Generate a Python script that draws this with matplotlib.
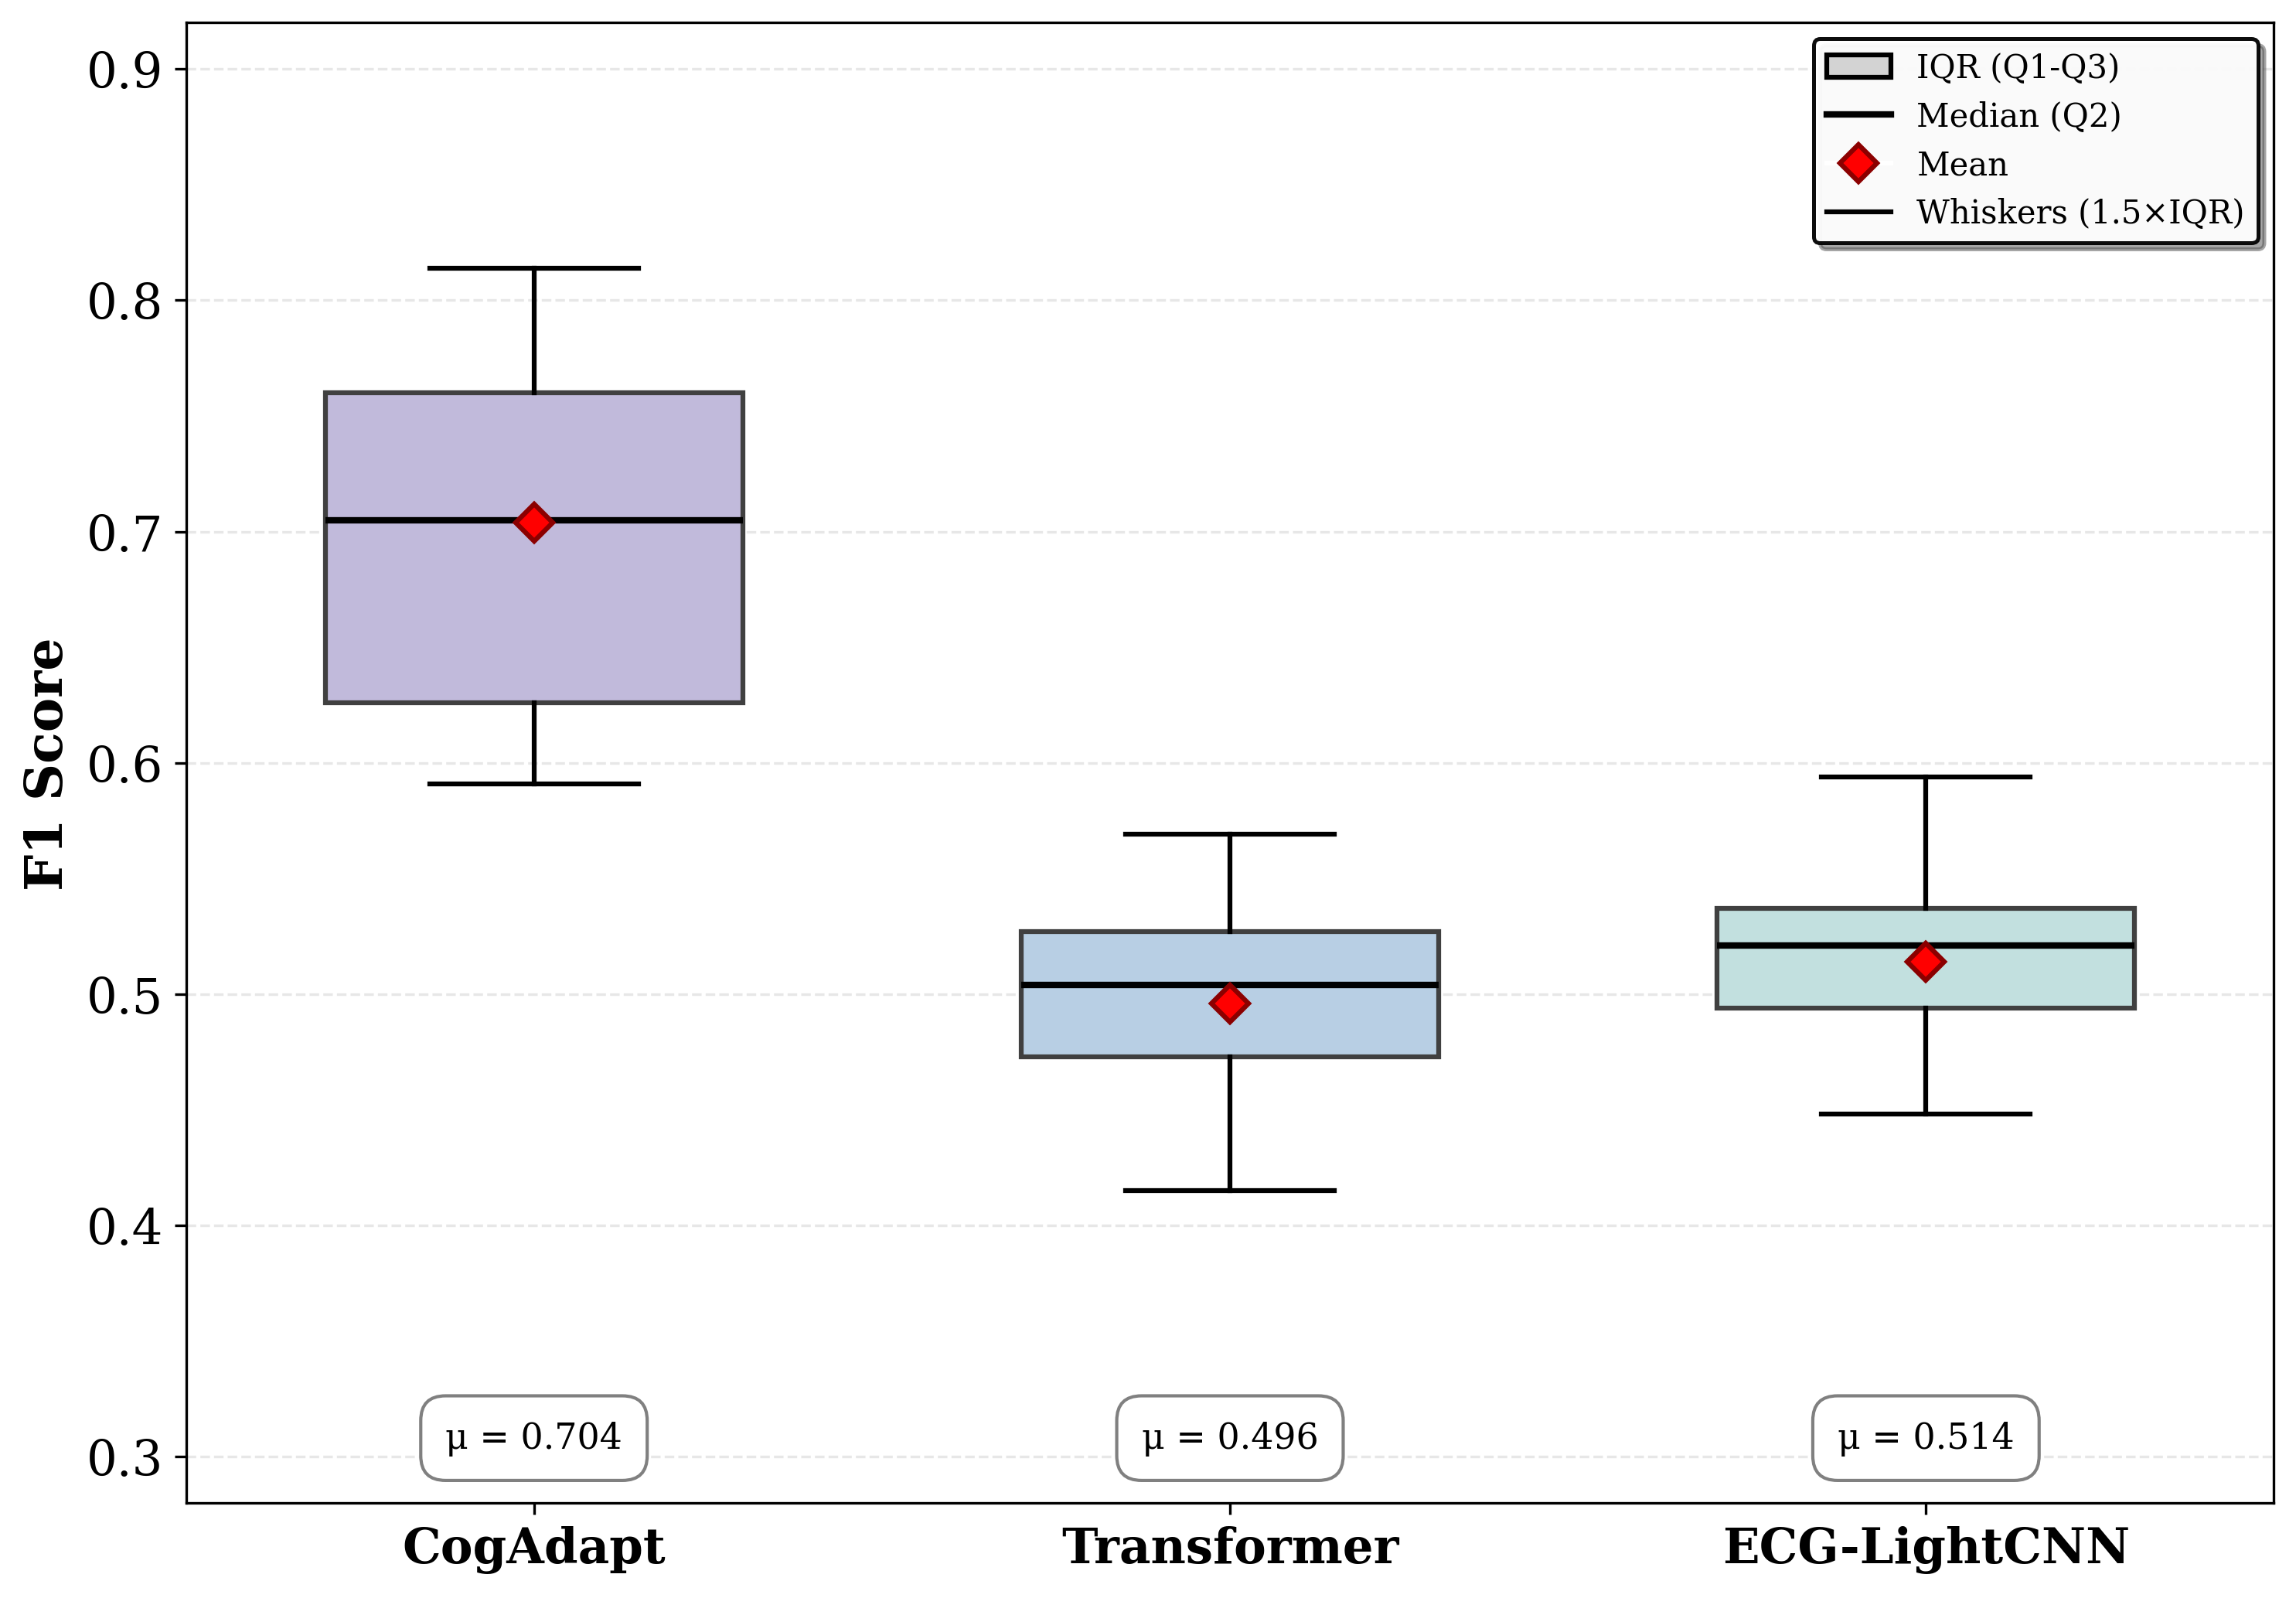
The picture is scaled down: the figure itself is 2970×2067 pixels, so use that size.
import matplotlib.pyplot as plt
from matplotlib.patches import Patch
from matplotlib.lines import Line2D

plt.rcParams["font.family"] = "DejaVu Serif"

models = ["CogAdapt", "Transformer", "ECG-LightCNN"]
whislo = [0.591, 0.415, 0.448]
q1 = [0.626, 0.473, 0.494]
med = [0.705, 0.504, 0.521]
q3 = [0.760, 0.527, 0.537]
whishi = [0.814, 0.569, 0.594]
means = [0.704, 0.496, 0.514]
colors = ["#c1badb", "#b8cfe4", "#c2e0df"]

stats = []
for i, name in enumerate(models):
    stats.append({"label": name, "whislo": whislo[i], "q1": q1[i], "med": med[i],
                  "q3": q3[i], "whishi": whishi[i], "mean": means[i], "fliers": []})

fig, ax = plt.subplots(figsize=(9.9, 6.893), dpi=300)
fig.subplots_adjust(left=0.081, right=0.9904, top=0.9853, bottom=0.0595)

pos = [1, 2, 3]
bp = ax.bxp(stats, positions=pos, widths=0.6, patch_artist=True, showmeans=True,
            showfliers=False,
            boxprops=dict(edgecolor="#404040", linewidth=1.5),
            medianprops=dict(color="black", linewidth=2),
            whiskerprops=dict(color="black", linewidth=1.5),
            capprops=dict(color="black", linewidth=1.5),
            meanprops=dict(marker="D", markerfacecolor="red", markeredgecolor="darkred",
                           markersize=8, markeredgewidth=1.5))
for box, c in zip(bp["boxes"], colors):
    box.set_facecolor(c)

for p, m in zip(pos, means):
    ax.text(p, 0.308, f"μ = {m:.3f}", ha="center", va="center", fontsize=11,
            bbox=dict(boxstyle="round,pad=0.7", facecolor="white", edgecolor="gray"))

ax.set_xlim(0.5, 3.5)
ax.set_ylim(0.28, 0.92)
ax.set_xticks(pos)
ax.set_xticklabels(models, fontsize=15, fontweight="bold")
ax.tick_params(axis="y", labelsize=15)
ax.set_ylabel("F1 Score", fontsize=16, fontweight="bold")
ax.yaxis.grid(True, linestyle="--", alpha=0.3)
ax.set_axisbelow(True)

handles = [
    Patch(facecolor="lightgray", edgecolor="black", linewidth=1.5, label="IQR (Q1-Q3)"),
    Line2D([0], [0], color="black", linewidth=2, label="Median (Q2)"),
    Line2D([0], [0], marker="D", color="w", markerfacecolor="red", markeredgecolor="darkred",
           markersize=8, markeredgewidth=1.5, label="Mean"),
    Line2D([0], [0], color="black", linewidth=1.5, label="Whiskers (1.5×IQR)"),
]
leg = ax.legend(handles=handles, loc="upper right", fontsize=10, frameon=True,
                fancybox=True, shadow=True, framealpha=0.95)
leg.get_frame().set_edgecolor("black")
leg.get_frame().set_linewidth(1.2)

plt.savefig("out.png", dpi=300)
